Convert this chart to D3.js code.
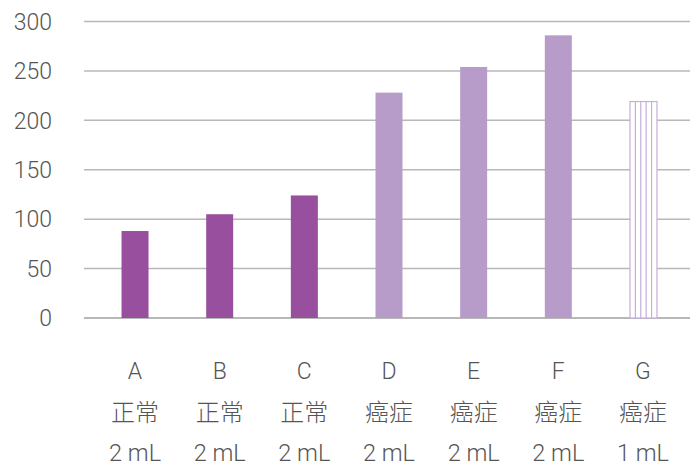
<!DOCTYPE html>
<html>
<head>
<meta charset="utf-8">
<script src="https://cdn.jsdelivr.net/npm/d3@7"></script>
<style>
  html, body { margin: 0; padding: 0; background: #fff; }
  svg { display: block; }
  text { font-family: Roboto, "Noto Sans CJK SC", sans-serif; font-weight: 300; fill: #555; }
</style>
</head>
<body>
<svg id="chart" width="696" height="467"></svg>
<script>
// Sample volumes and measured values
const letters = ["A", "B", "C", "D", "E", "F", "G"];
const groups = ["正常", "正常", "正常", "癌症", "癌症", "癌症", "癌症"];
const volumes = ["2 mL", "2 mL", "2 mL", "2 mL", "2 mL", "2 mL", "1 mL"];
const values = [88, 105, 124, 228, 254, 286, 219];
const styles = ["normal", "normal", "normal", "cancer", "cancer", "cancer", "hatched"];
const yTicks = [0, 50, 100, 150, 200, 250, 300];

const svg = d3.select("#chart");

const x = d3.scaleBand().domain(letters).range([92.7, 685.3]).paddingInner(0.68).paddingOuter(0.34);
const y = d3.scaleLinear().domain([0, 300]).range([318, 21.5]);

// Horizontal gridlines
svg.append("g")
  .selectAll("line")
  .data(yTicks)
  .join("line")
  .attr("x1", 84).attr("x2", 690)
  .attr("y1", d => y(d)).attr("y2", d => y(d))
  .attr("stroke", "#b8b8b8")
  .attr("stroke-width", d => d === 0 ? 2 : 1.5);

// Y-axis labels
svg.append("g")
  .selectAll("text")
  .data(yTicks)
  .join("text")
  .attr("x", 52)
  .attr("y", d => y(d))
  .attr("dy", "0.36em")
  .attr("text-anchor", "end")
  .attr("font-size", 23)
  .text(d => d);

const bw = 27;
const fills = { normal: "#974f9e", cancer: "#b79bc8" };
const data = letters.map((l, i) => ({ l, v: values[i], s: styles[i] }));

// Solid bars
svg.append("g")
  .selectAll("rect")
  .data(data.filter(d => d.s !== "hatched"))
  .join("rect")
  .attr("x", d => x(d.l) + x.bandwidth() / 2 - bw / 2)
  .attr("width", bw)
  .attr("y", d => y(d.v))
  .attr("height", d => y(0) - y(d.v))
  .attr("fill", d => fills[d.s]);

// Outlined bar with vertical stripes
const hatched = svg.append("g");
data.filter(d => d.s === "hatched").forEach(d => {
  const x0 = x(d.l) + x.bandwidth() / 2 - bw / 2 + 0.5;
  const w = bw;
  const top = y(d.v);
  hatched.append("rect")
    .attr("x", x0).attr("y", top)
    .attr("width", w).attr("height", y(0) - top)
    .attr("fill", "#fff")
    .attr("stroke", "#c6aedb")
    .attr("stroke-width", 1.2);
  const stripes = d3.range(1, 5).map(k => x0 + k * w / 5);
  hatched.selectAll(null)
    .data(stripes)
    .join("line")
    .attr("x1", s => s).attr("x2", s => s)
    .attr("y1", top).attr("y2", y(0))
    .attr("stroke", "#c6aedb")
    .attr("stroke-width", 1.2);
});

// Category labels, three lines each
const lab = svg.append("g")
  .selectAll("g")
  .data(letters.map((l, i) => ({ l, g: groups[i], v: volumes[i] })))
  .join("g")
  .attr("transform", d => `translate(${x(d.l) + x.bandwidth() / 2},0)`);

lab.append("text").attr("y", 379).attr("text-anchor", "middle").attr("font-size", 23).text(d => d.l);
lab.append("text").attr("y", 421).attr("text-anchor", "middle").attr("font-size", 24)
  .style("font-family", "'Noto Sans CJK SC', sans-serif").text(d => d.g);
lab.append("text").attr("y", 461).attr("text-anchor", "middle").attr("font-size", 23.5).text(d => d.v);
</script>
</body>
</html>
